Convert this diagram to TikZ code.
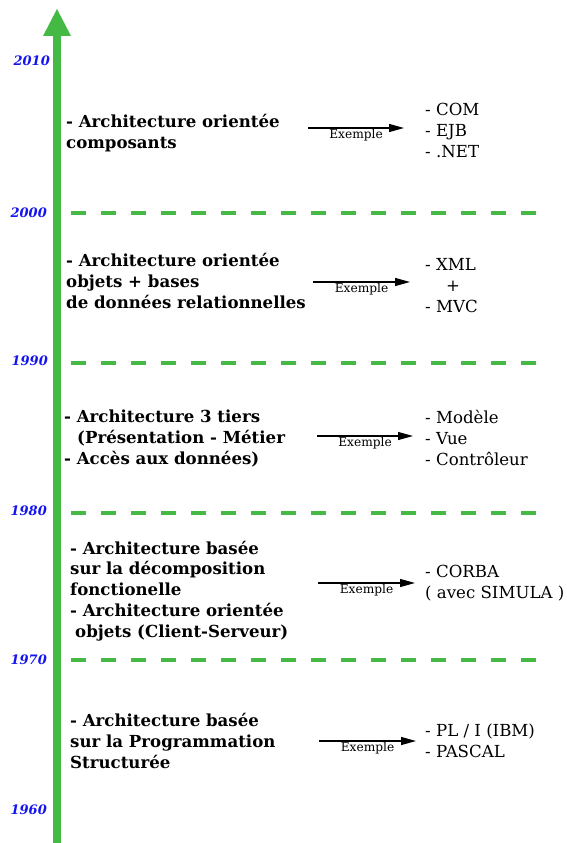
\documentclass[tikz,border=0pt]{standalone}
\usepackage{fontspec}
\setmainfont{DejaVu Serif}
\usetikzlibrary{arrows.meta}
\definecolor{tlgreen}{RGB}{68,186,68}
\definecolor{yrblue}{RGB}{20,20,240}
\tikzset{
  bold/.style={anchor=base west,inner sep=0pt,font=\fontsize{16.6}{18}\selectfont\bfseries},
  item/.style={anchor=base west,inner sep=0pt,font=\fontsize{16.6}{18}\selectfont},
  year/.style={anchor=base east,inner sep=0pt,text=yrblue,font=\fontsize{13}{14}\selectfont\bfseries\itshape},
  sep/.style={draw=tlgreen,line width=4.5pt,dash pattern=on 15pt off 15pt},
  exarrow/.style={draw=black,line width=1.2pt,-{Triangle[length=15pt,width=8pt]}},
  exlabel/.style={below,inner sep=1pt,font=\fontsize{12.2}{14}\selectfont}
}
\begin{document}
\begin{tikzpicture}[x=1pt,y=-1pt]
\useasboundingbox (0,0) rectangle (566,843);
% timeline arrow
\fill[tlgreen] (53,34) rectangle (61,843);
\fill[tlgreen] (43,36) -- (57,9) -- (71,36) -- cycle;
% years
\node[year] (y2010) at (50,66) {2010};
\node[year] (y2000) at (47,217) {2000};
\node[year] (y1990) at (48,365) {1990};
\node[year] (y1980) at (47,515) {1980};
\node[year] (y1970) at (47,664) {1970};
\node[year] (y1960) at (47,814) {1960};
% separators
\coordinate (s1a) at (71,213); \coordinate (s1b) at (536,213);
\coordinate (s2a) at (71,363); \coordinate (s2b) at (536,363);
\coordinate (s3a) at (71,513); \coordinate (s3b) at (536,513);
\coordinate (s4a) at (71,660); \coordinate (s4b) at (536,660);
\draw[sep] (s1a) -- (s1b);
\draw[sep] (s2a) -- (s2b);
\draw[sep] (s3a) -- (s3b);
\draw[sep] (s4a) -- (s4b);
% block 1
\node[bold] (b1a) at (66,127) {- Architecture orientée};
\node[bold] (b1b) at (66,148) {composants};
\coordinate (a1s) at (308,128); \coordinate (a1e) at (404,128);
\draw[exarrow] (a1s) -- node[exlabel] (e1) {Exemple} (a1e);
\node[item] (l1a) at (425,115) {- COM};
\node[item] (l1b) at (425,136) {- EJB};
\node[item] (l1c) at (425,157) {- .NET};
% block 2
\node[bold] (b2a) at (66,266) {- Architecture orientée};
\node[bold] (b2b) at (66,287) {objets + bases};
\node[bold] (b2c) at (66,308) {de données relationnelles};
\coordinate (a2s) at (313,282); \coordinate (a2e) at (410,282);
\draw[exarrow] (a2s) -- node[exlabel] (e2) {Exemple} (a2e);
\node[item] (l2a) at (425,270) {- XML};
\node[item] (l2b) at (446,291) {+};
\node[item] (l2c) at (425,312) {- MVC};
% block 3
\node[bold] (b3a) at (64,422) {- Architecture 3 tiers};
\node[bold] (b3b) at (77,443) {(Présentation - Métier};
\node[bold] (b3c) at (64,464) {- Accès aux données)};
\coordinate (a3s) at (317,436); \coordinate (a3e) at (413,436);
\draw[exarrow] (a3s) -- node[exlabel] (e3) {Exemple} (a3e);
\node[item] (l3a) at (425,423) {- Modèle};
\node[item] (l3b) at (425,444) {- Vue};
\node[item] (l3c) at (425,465) {- Contrôleur};
% block 4
\node[bold] (b4a) at (70,554) {- Architecture basée};
\node[bold] (b4b) at (70,574) {sur la décomposition};
\node[bold] (b4c) at (70,595) {fonctionelle};
\node[bold] (b4d) at (70,616) {- Architecture orientée};
\node[bold] (b4e) at (75,637) {objets (Client-Serveur)};
\coordinate (a4s) at (318,583); \coordinate (a4e) at (415,583);
\draw[exarrow] (a4s) -- node[exlabel] (e4) {Exemple} (a4e);
\node[item] (l4a) at (425,577) {- CORBA};
\node[item] (l4b) at (425,598) {( avec SIMULA )};
% block 5
\node[bold] (b5a) at (70,726) {- Architecture basée};
\node[bold] (b5b) at (70,747) {sur la Programmation};
\node[bold] (b5c) at (70,768) {Structurée};
\coordinate (a5s) at (319,741); \coordinate (a5e) at (416,741);
\draw[exarrow] (a5s) -- node[exlabel] (e5) {Exemple} (a5e);
\node[item] (l5a) at (425,736) {- PL / I (IBM)};
\node[item] (l5b) at (425,757) {- PASCAL};
\end{tikzpicture}
\end{document}
